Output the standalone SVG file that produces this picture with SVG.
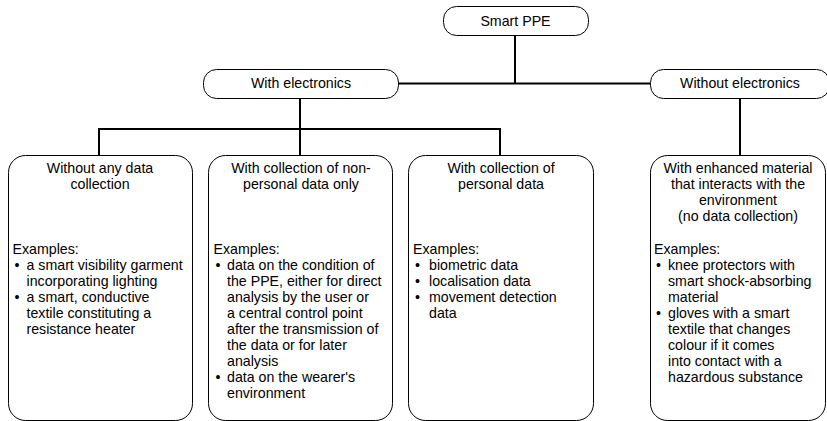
<svg xmlns="http://www.w3.org/2000/svg" width="827" height="421" viewBox="0 0 827 421">
  <style>
    .box { fill: #ffffff; stroke: #000000; stroke-width: 1; }
    .wire { fill: none; stroke: #000000; stroke-width: 2; }
    text { font-family: "Liberation Sans", Arial, Helvetica, sans-serif; font-size: 14.2px; fill: #000000; }
    .c { text-anchor: middle; }
  </style>
  <rect width="827" height="421" fill="#ffffff"/>

  <!-- connectors -->
  <g id="connectors">
    <path class="wire" d="M515,35 V83.5"/>
    <path class="wire" d="M398,83.5 H650"/>
    <path class="wire" d="M300,98 V129"/>
    <path class="wire" d="M99,155 V129 H500 V155"/>
    <path class="wire" d="M300,129 V155"/>
    <path class="wire" d="M740,98 V155"/>
  </g>

  <!-- root -->
  <g id="smart-ppe">
    <rect class="box" x="443.5" y="6.5" width="145" height="29" rx="13"/>
    <text class="c" x="515.5" y="26">Smart PPE</text>
  </g>

  <!-- second level -->
  <g id="with-electronics">
    <rect class="box" x="203.5" y="69.5" width="195" height="29" rx="13"/>
    <text class="c" x="301" y="88">With electronics</text>
  </g>
  <g id="without-electronics">
    <rect class="box" x="650.5" y="69.5" width="179" height="29" rx="13"/>
    <text class="c" x="740" y="88">Without electronics</text>
  </g>

  <!-- leaf categories -->
  <g id="no-data-collection">
    <rect class="box" x="8.5" y="155.5" width="184" height="265" rx="17"/>
    <text class="c" x="100" y="173">Without any data</text>
    <text class="c" x="100" y="189">collection</text>
    <text x="12.5" y="254">Examples:</text>
    <text x="14.5" y="270">•</text>
    <text x="26.5" y="270">a smart visibility garment</text>
    <text x="26.5" y="286">incorporating lighting</text>
    <text x="14.5" y="302">•</text>
    <text x="26.5" y="302">a smart, conductive</text>
    <text x="26.5" y="318">textile constituting a</text>
    <text x="26.5" y="334">resistance heater</text>
  </g>

  <g id="non-personal-data">
    <rect class="box" x="208.5" y="155.5" width="184" height="265" rx="17"/>
    <text class="c" x="301" y="173">With collection of non-</text>
    <text class="c" x="301" y="189">personal data only</text>
    <text x="213.5" y="254">Examples:</text>
    <text x="215.5" y="270">•</text>
    <text x="227" y="270">data on the condition of</text>
    <text x="227" y="286">the PPE, either for direct</text>
    <text x="227" y="302">analysis by the user or</text>
    <text x="227" y="318">a central control point</text>
    <text x="227" y="334">after the transmission of</text>
    <text x="227" y="350">the data or for later</text>
    <text x="227" y="366">analysis</text>
    <text x="215.5" y="382">•</text>
    <text x="227" y="382">data on the wearer's</text>
    <text x="227" y="398">environment</text>
  </g>

  <g id="personal-data">
    <rect class="box" x="408.5" y="155.5" width="185" height="265" rx="17"/>
    <text class="c" x="501" y="173">With collection of</text>
    <text class="c" x="501" y="189">personal data</text>
    <text x="413" y="254">Examples:</text>
    <text x="415" y="270">•</text>
    <text x="429" y="270">biometric data</text>
    <text x="415" y="286">•</text>
    <text x="429" y="286">localisation data</text>
    <text x="415" y="302">•</text>
    <text x="429" y="302">movement detection</text>
    <text x="429" y="318">data</text>
  </g>

  <g id="enhanced-material">
    <rect class="box" x="650.5" y="155.5" width="175" height="265" rx="17"/>
    <text class="c" x="738" y="173">With enhanced material</text>
    <text class="c" x="738" y="189">that interacts with the</text>
    <text class="c" x="738" y="205">environment</text>
    <text class="c" x="738" y="221">(no data collection)</text>
    <text x="654" y="254">Examples:</text>
    <text x="656" y="270">•</text>
    <text x="668" y="270">knee protectors with</text>
    <text x="668" y="286">smart shock-absorbing</text>
    <text x="668" y="302">material</text>
    <text x="656" y="318">•</text>
    <text x="668" y="318">gloves with a smart</text>
    <text x="668" y="334">textile that changes</text>
    <text x="668" y="350">colour if it comes</text>
    <text x="668" y="366">into contact with a</text>
    <text x="668" y="382">hazardous substance</text>
  </g>
</svg>
